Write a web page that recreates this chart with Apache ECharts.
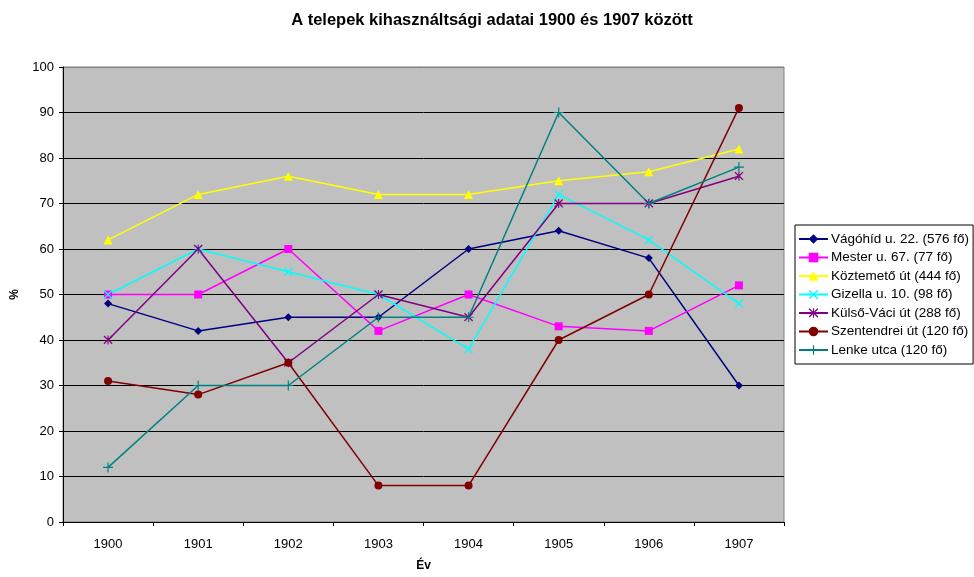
<!DOCTYPE html>
<html>
<head>
<meta charset="utf-8">
<script src="https://cdn.jsdelivr.net/npm/echarts@6/dist/echarts.min.js"></script>
<style>
  html, body { margin: 0; padding: 0; background: #fff; }
  #chart { width: 974px; height: 577px; }
</style>
</head>
<body>
<div id="chart"></div>
<script>
// years on the category axis
const years = ['1900', '1901', '1902', '1903', '1904', '1905', '1906', '1907'];

// usage percentages per site
const vagohid = [48, 42, 45, 45, 60, 64, 58, 30];
const mester = [50, 50, 60, 42, 50, 43, 42, 52];
const koztemeto = [62, 72, 76, 72, 72, 75, 77, 82];
const gizella = [50, 60, 55, 50, 38, 72, 62, 48];
const kulsoVaci = [40, 60, 35, 50, 45, 70, 70, 76];
const szentendrei = [31, 28, 35, 8, 8, 40, 50, 91];
const lenke = [12, 30, 30, 45, 45, 90, 70, 78];

const seriesNames = [
  'Vágóhíd u. 22. (576 fő)',
  'Mester u. 67. (77 fő)',
  'Köztemető út (444 fő)',
  'Gizella u. 10. (98 fő)',
  'Külső-Váci út (288 fő)',
  'Szentendrei út (120 fő)',
  'Lenke utca (120 fő)'
];

// marker shapes
const xPath = 'path://M0,1L1,0L5,4L9,0L10,1L6,5L10,9L9,10L5,6L1,10L0,9L4,5Z';
const plusPath = 'path://M4.4,0H5.6V4.4H10V5.6H5.6V10H4.4V5.6H0V4.4H4.4Z';
const starPath = 'path://M0,1L1,0L4.4,3.4V0H5.6V3.4L9,0L10,1L6.2,4.8L10,8.6L9,9.6L5.6,6.2V10H4.4V6.2L1,9.6L0,8.6L3.8,4.8Z';

const font = 'Liberation Sans, Arial, sans-serif';

// black gridlines, gray one on the top edge of the plot area
const gridColors = ['#000', '#000', '#000', '#000', '#000', '#000', '#000', '#000', '#000', '#000', '#808080'];

function line(name, data, color, symbol, size) {
  return {
    name: name,
    type: 'line',
    data: data,
    symbol: symbol,
    symbolSize: size,
    showAllSymbol: true,
    lineStyle: { color: color, width: 1.5 },
    itemStyle: { color: color, borderWidth: 0 },
    emphasis: { disabled: true },
    animation: false
  };
}

const chart = echarts.init(document.getElementById('chart'));

chart.setOption({
  backgroundColor: '#fff',
  textStyle: { fontFamily: font },
  title: {
    text: 'A telepek kihasználtsági adatai 1900 és 1907 között',
    left: 487,
    textAlign: 'center',
    top: 7,
    textStyle: { fontSize: 16.5, fontWeight: 'bold', color: '#000', fontFamily: font }
  },
  legend: {
    orient: 'vertical',
    left: 795,
    top: 225,
    padding: [7, 4, 7, 3],
    itemWidth: 29,
    itemHeight: 12,
    itemGap: 4.5,
    backgroundColor: '#fff',
    borderColor: '#000',
    borderWidth: 1,
    borderRadius: 0,
    textStyle: { fontSize: 13.5, lineHeight: 14, color: '#000', fontFamily: font, padding: [0, 0, 0, -2] },
    data: seriesNames
  },
  grid: {
    left: 63,
    right: 190,
    top: 67,
    bottom: 51,
    show: true,
    backgroundColor: '#C0C0C0',
    borderColor: '#808080',
    borderWidth: 1
  },
  xAxis: {
    type: 'category',
    data: years,
    boundaryGap: true,
    name: 'Év',
    nameLocation: 'middle',
    nameGap: 38,
    nameTextStyle: { fontSize: 12, fontWeight: 'bold', color: '#000' },
    axisLine: { lineStyle: { color: '#000', width: 1 } },
    axisTick: { show: true, length: 4, alignWithLabel: false, lineStyle: { color: '#000' } },
    axisLabel: { fontSize: 13, color: '#000', margin: 16 }
  },
  yAxis: {
    type: 'value',
    min: 0,
    max: 100,
    interval: 10,
    name: '%',
    nameLocation: 'middle',
    nameGap: 42,
    nameRotate: 90,
    nameTextStyle: { fontSize: 12, fontWeight: 'bold', color: '#000' },
    axisLine: { show: true, lineStyle: { color: '#000', width: 1 } },
    axisTick: { show: true, length: 4, lineStyle: { color: '#000' } },
    axisLabel: { fontSize: 13, color: '#000', margin: 9 },
    splitLine: { show: true, lineStyle: { color: gridColors, width: 1 } }
  },
  series: [
    line(seriesNames[0], vagohid, '#000080', 'diamond', 8),
    line(seriesNames[1], mester, '#FF00FF', 'rect', 8),
    line(seriesNames[2], koztemeto, '#FFFF00', 'triangle', 9),
    line(seriesNames[3], gizella, '#00FFFF', xPath, 9),
    line(seriesNames[4], kulsoVaci, '#800080', starPath, 9),
    line(seriesNames[5], szentendrei, '#800000', 'circle', 8),
    line(seriesNames[6], lenke, '#008080', plusPath, 10)
  ]
});
</script>
</body>
</html>
